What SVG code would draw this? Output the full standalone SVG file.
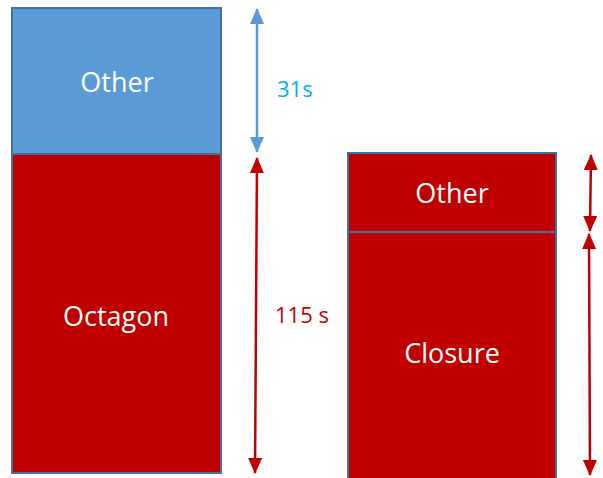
<svg xmlns="http://www.w3.org/2000/svg" width="603" height="478" viewBox="0 0 603 478">
  <style>
    .box-blue { fill: #5B9BD5; stroke: #41719C; stroke-width: 2; }
    .box-red { fill: #C00000; stroke: #41719C; stroke-width: 2; }
    .label { font-family: "Open Sans", "Liberation Sans", sans-serif; font-size: 27px; fill: #FFFFFF; text-anchor: middle; }
    .dim { font-family: "Open Sans", "Liberation Sans", sans-serif; font-size: 22px; }
    .arrow-blue { stroke: #5B9BD5; stroke-width: 2.5; fill: none; marker-start: url(#headBlue); marker-end: url(#headBlue); }
    .arrow-red { stroke: #C00000; stroke-width: 2.5; fill: none; marker-start: url(#headRed); marker-end: url(#headRed); }
  </style>
  <defs>
    <marker id="headBlue" viewBox="0 0 16 14" refX="15" refY="7" markerWidth="16" markerHeight="14" markerUnits="userSpaceOnUse" orient="auto-start-reverse">
      <path d="M0,0 L16,7 L0,14 Z" fill="#5B9BD5"/>
    </marker>
    <marker id="headRed" viewBox="0 0 16 14" refX="15" refY="7" markerWidth="16" markerHeight="14" markerUnits="userSpaceOnUse" orient="auto-start-reverse">
      <path d="M0,0 L16,7 L0,14 Z" fill="#C00000"/>
    </marker>
  </defs>

  <!-- left stack -->
  <g id="left-other">
    <rect class="box-blue" x="12" y="8" width="209" height="146"/>
    <text class="label" x="117" y="92">Other</text>
  </g>
  <g id="left-octagon">
    <rect class="box-red" x="12" y="154" width="209" height="319"/>
    <text class="label" x="116" y="326">Octagon</text>
  </g>

  <!-- right stack -->
  <g id="right-other">
    <rect class="box-red" x="348" y="153" width="208" height="79"/>
    <text class="label" x="452" y="203">Other</text>
  </g>
  <g id="right-closure">
    <rect class="box-red" x="348" y="232" width="208" height="250"/>
    <text class="label" x="452" y="363">Closure</text>
  </g>

  <!-- dimension arrows -->
  <g id="connectors">
    <line class="arrow-blue" x1="257" y1="9" x2="257" y2="152"/>
    <line class="arrow-red" x1="257" y1="158" x2="255" y2="473"/>
    <line class="arrow-red" x1="591" y1="155" x2="590" y2="231"/>
    <line class="arrow-red" x1="589" y1="234" x2="590" y2="475"/>
  </g>

  <g id="dimension-labels">
    <text class="dim" x="277" y="97" fill="#00B0F0">31s</text>
    <text class="dim" x="275" y="323" fill="#C00000">115 s</text>
  </g>
</svg>
